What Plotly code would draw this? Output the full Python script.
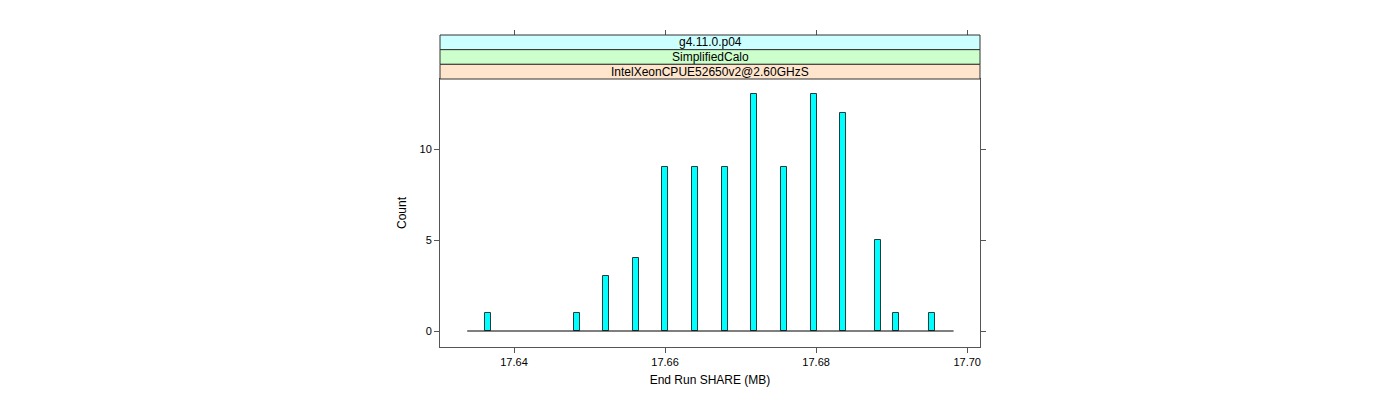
import plotly.graph_objects as go

# Data
share_mb = [17.63656, 17.64834, 17.65219, 17.65616, 17.66000, 17.66397, 17.66795,
            17.67179, 17.67576, 17.67974, 17.68358, 17.68821, 17.69060, 17.69536]
counts = [1, 1, 3, 4, 9, 9, 9, 13, 9, 13, 12, 5, 1, 1]
baseline_x = [17.6338, 17.6982]
x_ticks = [17.64, 17.66, 17.68, 17.70]
x_tick_text = ["17.64", "17.66", "17.68", "17.70"]
y_ticks = [0, 5, 10]
strip_labels = ["g4.11.0.p04", "SimplifiedCalo", "IntelXeonCPUE52650v2@2.60GHzS"]
strip_colors = ["#CCFFFF", "#CCFFCC", "#FFE5CC"]

W, H = 1400, 400
# page body adds an 8px offset; compensate in the margins
m_l, m_r, m_t, m_b = 432, 428, 27, 61
plot_h = H - m_t - m_b
panel_top_px = 79 - 8
dom_top = (H - m_b - panel_top_px) / plot_h
strip_h = (1 - dom_top) / 3

font = dict(family="Liberation Sans, Arial, sans-serif", size=12, color="#000000")
tfont = dict(family="Liberation Sans, Arial, sans-serif", size=11, color="#000000")

fig = go.Figure()
fig.add_trace(go.Scatter(x=baseline_x, y=[0, 0], mode="lines",
                         line=dict(color="#000000", width=1.2),
                         hoverinfo="skip", showlegend=False))
fig.add_trace(go.Bar(x=share_mb, y=counts, width=0.00088,
                     marker=dict(color="#00FFFF", line=dict(color="#1F3F3F", width=1)),
                     showlegend=False))
# invisible trace for top axis
fig.add_trace(go.Scatter(x=baseline_x, y=[0, 0], xaxis="x2", mode="none",
                         hoverinfo="skip", showlegend=False))

xr = [17.6302, 17.7017]
fig.update_layout(
    width=W, height=H,
    margin=dict(l=m_l, r=m_r, t=m_t, b=m_b),
    paper_bgcolor="white", plot_bgcolor="white",
    font=font,
    bargap=0,
    xaxis=dict(range=xr, tickvals=x_ticks, ticktext=x_tick_text,
               ticks="outside", ticklen=5, tickcolor="#555555",
               showline=True, linecolor="#555555", linewidth=1, mirror=True,
               showgrid=False, zeroline=False,
               title=dict(text="End Run SHARE (MB)", font=font, standoff=8),
               tickfont=tfont),
    xaxis2=dict(range=xr, tickvals=x_ticks, overlaying="x", side="top",
                anchor="free", position=1, ticks="outside", ticklen=5,
                tickcolor="#555555", showticklabels=False, showline=False,
                showgrid=False, zeroline=False),
    yaxis=dict(domain=[0, dom_top], range=[-0.879, 13.85], tickvals=y_ticks,
               ticks="outside", ticklen=5, tickcolor="#555555",
               showline=True, linecolor="#555555", linewidth=1, mirror="ticks",
               showgrid=False, zeroline=False,
               title=dict(text="Count", font=font, standoff=10),
               tickfont=tfont),
)

shapes = []
annotations = []
for i, (lab, col) in enumerate(zip(strip_labels, strip_colors)):
    y1 = 1 - i * strip_h
    y0 = y1 - strip_h
    shapes.append(dict(type="rect", xref="paper", yref="paper", x0=0, x1=1,
                       y0=y0, y1=y1, fillcolor=col,
                       line=dict(color="#333333", width=1), layer="above"))
    annotations.append(dict(text=lab, xref="paper", yref="paper", x=0.5,
                            y=(y0 + y1) / 2, showarrow=False,
                            font=font, xanchor="center", yanchor="middle"))
fig.update_layout(shapes=shapes, annotations=annotations)

fig.write_html("out.html")
